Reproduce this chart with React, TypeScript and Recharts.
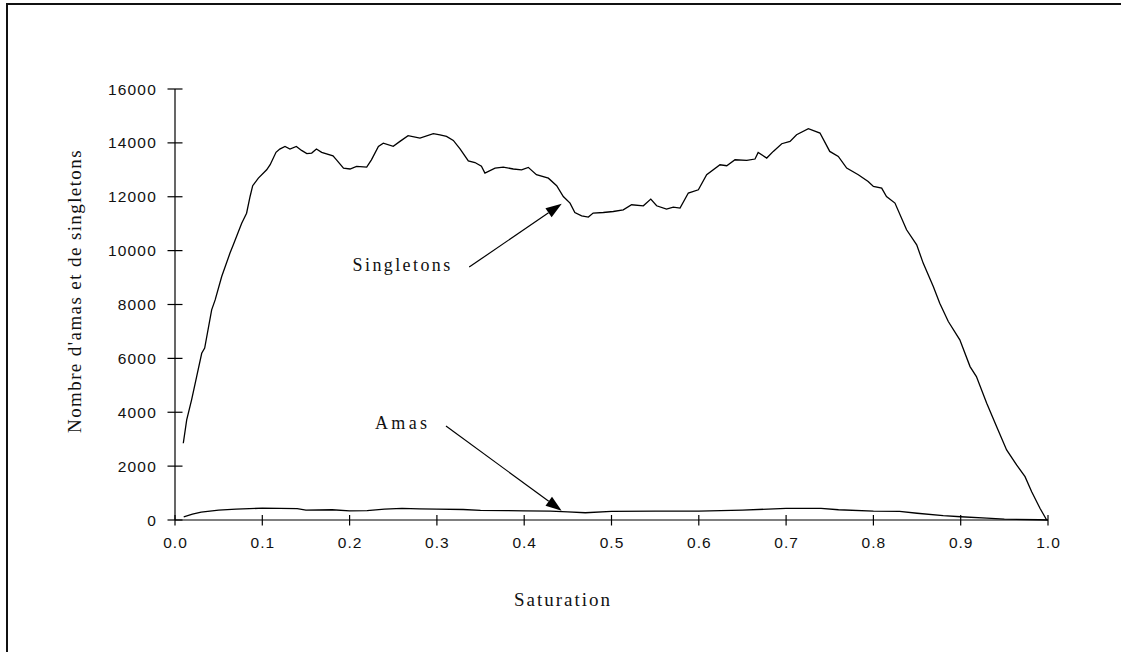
import { LineChart, Line, XAxis, YAxis, ReferenceLine } from "recharts";

// Saturation (x) and number of singletons (y).
const singletonsSat = [
	0.0095, 0.0134, 0.019, 0.0248, 0.0306, 0.034, 0.042, 0.046, 0.0535, 0.063, 0.0668, 0.0764, 0.082, 0.086,
	0.089, 0.0955, 0.105, 0.109, 0.1157, 0.12, 0.126, 0.1317, 0.139, 0.145, 0.151, 0.1566, 0.162, 0.168, 0.181,
	0.185, 0.193, 0.2005, 0.208, 0.2196, 0.225, 0.233, 0.2386, 0.25, 0.2577, 0.267, 0.2806, 0.2959, 0.3035,
	0.311, 0.3188, 0.3265, 0.336, 0.3436, 0.351, 0.355, 0.3666, 0.376, 0.3875, 0.397, 0.4047, 0.414, 0.4277,
	0.4372, 0.4448, 0.4525, 0.458, 0.4658, 0.4735, 0.479, 0.4906, 0.502, 0.5135, 0.523, 0.5365, 0.545, 0.5517,
	0.563, 0.5708, 0.5785, 0.588, 0.5995, 0.609, 0.6243, 0.632, 0.6415, 0.6549, 0.6644, 0.668, 0.6778, 0.6853,
	0.695, 0.7045, 0.712, 0.7255, 0.7388, 0.75, 0.7598, 0.7694, 0.7827, 0.794, 0.8, 0.8095, 0.815, 0.8247,
	0.838, 0.8496, 0.857, 0.8686, 0.876, 0.8858, 0.899, 0.9107, 0.918, 0.9298, 0.9412, 0.9526, 0.964, 0.9737,
	0.9813, 0.9908, 0.9985,
];
const singletonsCount = [
	2850, 3715, 4460, 5320, 6190, 6380, 7800, 8170, 9040, 9910, 10220, 11020, 11390, 12010, 12410, 12690,
	13000, 13190, 13650, 13770, 13870, 13770, 13870, 13720, 13600, 13620, 13770, 13650, 13520, 13370, 13065,
	13030, 13130, 13100, 13370, 13870, 13990, 13870, 14055, 14270, 14180, 14340, 14300, 14240, 14090, 13780,
	13330, 13270, 13130, 12880, 13065, 13100, 13030, 13000, 13090, 12820, 12690, 12410, 12010, 11765, 11416,
	11294, 11245, 11394, 11416, 11453, 11516, 11702, 11665, 11913, 11665, 11542, 11617, 11580, 12137, 12260,
	12817, 13188, 13151, 13374, 13348, 13400, 13646, 13437, 13683, 13968, 14055, 14303, 14526, 14365, 13683,
	13497, 13065, 12817, 12568, 12382, 12322, 12010, 11765, 10774, 10216, 9537, 8667, 8049, 7367, 6687, 5695,
	5323, 4335, 3466, 2600, 2043, 1608, 1051, 434, 0,
];

// Saturation (x) and number of clusters (y).
const amasSat = [
	0.01, 0.02, 0.03, 0.05, 0.07, 0.1, 0.12, 0.14, 0.15, 0.18, 0.2, 0.22, 0.24, 0.26, 0.28, 0.3, 0.33, 0.35,
	0.38, 0.4, 0.43, 0.45, 0.47, 0.5, 0.55, 0.6, 0.65, 0.7, 0.74, 0.76, 0.8, 0.83, 0.85, 0.88, 0.9, 0.93, 0.95,
	0.99, 1.0,
];
const amasCount = [
	120, 220, 290, 370, 400, 440, 430, 420, 370, 380, 340, 350, 400, 430, 410, 400, 390, 360, 350, 340, 330, 300,
	270, 320, 330, 330, 370, 430, 430, 380, 330, 320, 250, 160, 120, 70, 30, 10, 0,
];

const xTicks = [0, 0.1, 0.2, 0.3, 0.4, 0.5, 0.6, 0.7, 0.8, 0.9, 1.0];
const yTicks = [0, 2000, 4000, 6000, 8000, 10000, 12000, 14000, 16000];

// Annotation arrows: label, tail point, head point (data coordinates).
const arrowLabels = ["Singletons", "Amas"];
const arrowTails = [
	{ x: 0.337, y: 9390 },
	{ x: 0.3104, y: 3490 },
];
const arrowHeads = [
	{ x: 0.443, y: 11740 },
	{ x: 0.4429, y: 345 },
];
const arrowLabelSpacing = [2.4, 3.3];

const singletons = singletonsSat.map((x, i) => ({ x, y: singletonsCount[i] }));
const amas = amasSat.map((x, i) => ({ x, y: amasCount[i] }));

const SANS = "'Liberation Sans', Arial, sans-serif";
const SERIF = "'Liberation Serif', 'Times New Roman', serif";

function XTick(props: any) {
	const { x, y, payload } = props;
	return (
		<g>
			<line x1={x} y1={y - 5} x2={x} y2={y + 5.5} stroke="#000" strokeWidth={1.2} />
			<text x={x + 0.5} y={y + 28} textAnchor="middle" fontFamily={SANS} fontSize={15.5} letterSpacing={1} fill="#111">
				{payload.value.toFixed(1)}
			</text>
		</g>
	);
}

function YTick(props: any) {
	const { x, y, payload } = props;
	return (
		<g>
			<line x1={x - 7.5} y1={y} x2={x + 7.5} y2={y} stroke="#000" strokeWidth={1.2} />
			<text x={x - 18} y={y + 5.5} textAnchor="end" fontFamily={SANS} fontSize={15.5} letterSpacing={1.2} fill="#111">
				{payload.value}
			</text>
		</g>
	);
}

function arrowShape(label: string, spacing: number) {
	return (props: any) => {
		const { x1, y1, x2, y2 } = props;
		const dx = x2 - x1;
		const dy = y2 - y1;
		const len = Math.sqrt(dx * dx + dy * dy);
		const ux = dx / len;
		const uy = dy / len;
		const headLen = 16;
		const headHalf = 5.5;
		const bx = x2 - ux * headLen;
		const by = y2 - uy * headLen;
		const pts = `${x2},${y2} ${bx - uy * headHalf},${by + ux * headHalf} ${bx + uy * headHalf},${by - ux * headHalf}`;
		return (
			<g>
				<line x1={x1} y1={y1} x2={bx} y2={by} stroke="#000" strokeWidth={1.2} />
				<polygon points={pts} fill="#000" />
				<text
					x={x1 - 19 + spacing}
					y={y1 + 3.5}
					textAnchor="end"
					fontFamily={SERIF}
					fontSize={18}
					letterSpacing={spacing}
					fill="#111"
				>
					{label}
				</text>
			</g>
		);
	};
}

export default function App() {
	return (
		<div style={{ position: "absolute", left: 0, top: 0, width: 1121, height: 652, overflow: "hidden", background: "#fff" }}>
			<div
				style={{
					position: "absolute",
					left: 6,
					top: 3,
					width: 1200,
					height: 700,
					borderLeft: "2px solid #111",
					borderTop: "2px solid #111",
				}}
			/>
			<div style={{ position: "absolute", left: 0, top: 0 }}>
				<LineChart width={1121} height={652} margin={{ top: 89, right: 73, bottom: 72, left: 115 }}>
					<XAxis
						dataKey="x"
						type="number"
						domain={[0, 1]}
						ticks={xTicks}
						tick={<XTick />}
						tickLine={false}
						tickSize={0}
						tickMargin={0}
						height={60}
						stroke="#000"
						strokeWidth={1.2}
						allowDataOverflow
					/>
					<YAxis
						type="number"
						domain={[0, 16000]}
						ticks={yTicks}
						tick={<YTick />}
						tickLine={false}
						tickSize={0}
						tickMargin={0}
						width={60}
						stroke="#000"
						strokeWidth={1.2}
					/>
					<Line
						data={singletons}
						dataKey="y"
						type="linear"
						stroke="#000"
						strokeWidth={1.3}
						dot={false}
						isAnimationActive={false}
					/>
					<Line data={amas} dataKey="y" type="linear" stroke="#000" strokeWidth={1.3} dot={false} isAnimationActive={false} />
					{arrowLabels.map((label, i) => (
						<ReferenceLine
							key={label}
							segment={[arrowTails[i], arrowHeads[i]]}
							shape={arrowShape(label, arrowLabelSpacing[i])}
						/>
					))}
				</LineChart>
			</div>
			<div
				style={{
					position: "absolute",
					left: 563,
					top: 607,
					transform: "translate(-50%, -80%)",
					fontFamily: SERIF,
					fontSize: 19,
					letterSpacing: 2,
					whiteSpace: "nowrap",
					color: "#111",
				}}
			>
				Saturation
			</div>
			<div
				style={{
					position: "absolute",
					left: 75,
					top: 291,
					transform: "translate(-50%, -50%) rotate(-90deg)",
					fontFamily: SERIF,
					fontSize: 19,
					letterSpacing: 1.4,
					whiteSpace: "nowrap",
					color: "#111",
				}}
			>
				Nombre d'amas et de singletons
			</div>
		</div>
	);
}
